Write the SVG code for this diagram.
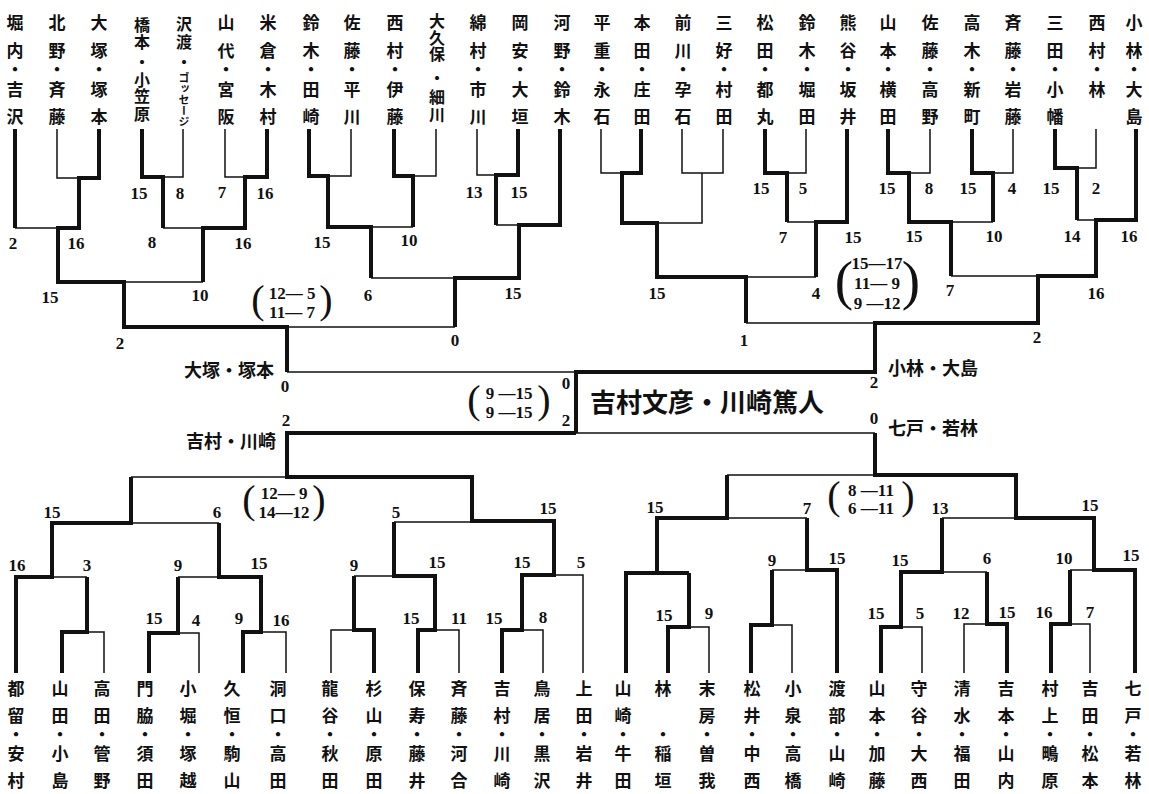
<svg xmlns="http://www.w3.org/2000/svg" width="1149" height="794" viewBox="0 0 1149 794">
<style>
.k{fill:none;stroke:#111;stroke-width:4;stroke-linejoin:miter}
.n{fill:none;stroke:#111;stroke-width:1.5}
.nm{font-family:"Noto Sans CJK JP","Noto Sans CJK SC",sans-serif;font-weight:700;font-size:17px;text-anchor:middle;fill:#111}
.sm{font-size:16px}
.kana{font-family:"Noto Sans CJK JP",sans-serif;font-weight:700;font-size:11px;fill:#111;writing-mode:vertical-rl}
.sc{font-family:"Liberation Serif",serif;font-weight:700;font-size:17px;text-anchor:middle;fill:#111}
.ps{font-family:"Liberation Serif",serif;font-weight:700;font-size:17px;text-anchor:middle;fill:#111}
.pr{font-family:"Liberation Serif",serif;font-size:40px;text-anchor:middle;fill:#111}
.pr3{font-size:55px}
.lb{font-family:"Noto Sans CJK JP",sans-serif;font-weight:700;font-size:18px;fill:#111}
.ttl{font-family:"Noto Sans CJK JP",sans-serif;font-weight:700;font-size:26px;fill:#111}
</style>
<rect width="1149" height="794" fill="#fff"/>

<g id="connectors">
<path class="n" d="M57,129V178H79 M15,228H58 M183,129V177H163 M163,228H203 M225,129V177H245 M203,282H124 M351,129V176H328 M436,129V176H413 M413,227H371 M371,278H455 M477,129V175H496 M496,225H519 M455,327H287 M287,372H576 M601,129V173H622 M682,129V173H723V129 M702,173V223H657 M806,129V173H787 M787,222H816 M816,277H746 M746,323H875 M930,129V173H909 M1013,129V173H993 M993,222H951 M1096,129V168H1077 M1077,220H1096 M951,276H1038"/>
<path class="n" d="M104,673V632H87 M87,577H52 M199,673V633H178 M286,673V632H261 M178,577H219 M219,523H131 M131,477H287 M331,673V630H354 M354,576H394 M459,673V630H435 M394,522H472 M543,673V630H522 M583,673V575H554 M709,673V627H689 M792,673V625H772 M772,570H807 M807,518H727 M727,475H875 M922,673V627H901 M964,673V624H987 M987,572H942 M942,518H1016 M1090,673V624H1070 M1070,570H1094 M875,433H576"/>
<path class="k" d="M99,129V178H79V228H58V282H124V327H287V372 M15,129V228 M142,129V177H163V228 M267,129V177H245V228H203V282 M309,129V176H328V227H371V278 M394,129V176H413V227 M518,129V175H496V225 M560,129V225H519V278H455V327 M641,129V173H622V223H657V277H746V323 M765,129V173H787V222 M847,129V222H816V277 M888,129V173H909V222H951V276 M972,129V173H993V222 M1055,129V168H1077V220 M1136,129V220H1096V276H1038V323H875V372H576V433"/>
<path class="k" d="M16,673V577H52V523H131V477 M62,673V632H87V577 M149,673V633H178V577 M243,673V632H261V577H219V523 M374,673V630H354V576 M418,673V630H435V576H394V522 M502,673V630H522V575H554V521H472V477H287V433H576 M626,673V573H689 M668,673V627H689V573 M657,573V518H727V475 M751,673V625H772V570 M837,673V570H807V518 M881,673V627H901V572H942V518 M1007,673V624H987V572 M1051,673V624H1070V570 M1135,673V570H1094V518H1016V475H875V433"/>
</g>

<g id="top-teams">
<g id="t00"><text class="nm" x="15 15 15 15 15" y="28.5 56.5 75.5 95.5 122.5">堀内・吉沢</text></g>
<g id="t01"><text class="nm" x="57 57 57 57 57" y="28.5 56.5 75.5 95.5 122.5">北野・斉藤</text></g>
<g id="t02"><text class="nm" x="99 99 99 99 99" y="28.5 56.5 75.5 95.5 122.5">大塚・塚本</text></g>
<g id="t03"><text class="nm sm" x="142 142 142 142 142 142" y="31 48 68 86 102 120">橋本・小笠原</text></g>
<g id="t04"><text class="nm sm" x="184 184 184" y="29.5 47.5 68">沢渡・</text><text class="kana" x="184" y="72">ゴッセージ</text></g>
<g id="t05"><text class="nm" x="226 226 226 226 226" y="28.5 56.5 75.5 95.5 122.5">山代・宮阪</text></g>
<g id="t06"><text class="nm" x="268 268 268 268 268" y="28.5 56.5 75.5 95.5 122.5">米倉・木村</text></g>
<g id="t07"><text class="nm" x="311 311 311 311 311" y="28.5 56.5 75.5 95.5 122.5">鈴木・田崎</text></g>
<g id="t08"><text class="nm" x="352 352 352 352 352" y="28.5 56.5 75.5 95.5 122.5">佐藤・平川</text></g>
<g id="t09"><text class="nm" x="395 395 395 395 395" y="28.5 56.5 75.5 95.5 122.5">西村・伊藤</text></g>
<g id="t10"><text class="nm sm" x="437 437 437 437 437 437" y="27 43.5 60 84 103 121">大久保・細川</text></g>
<g id="t11"><text class="nm" x="478 478 478 478 478" y="28.5 56.5 75.5 95.5 122.5">綿村・市川</text></g>
<g id="t12"><text class="nm" x="520 520 520 520 520" y="28.5 56.5 75.5 95.5 122.5">岡安・大垣</text></g>
<g id="t13"><text class="nm" x="562 562 562 562 562" y="28.5 56.5 75.5 95.5 122.5">河野・鈴木</text></g>
<g id="t14"><text class="nm" x="602 602 602 602 602" y="28.5 56.5 75.5 95.5 122.5">平重・永石</text></g>
<g id="t15"><text class="nm" x="642 642 642 642 642" y="28.5 56.5 75.5 95.5 122.5">本田・庄田</text></g>
<g id="t16"><text class="nm" x="683 683 683 683 683" y="28.5 56.5 75.5 95.5 122.5">前川・孕石</text></g>
<g id="t17"><text class="nm" x="724 724 724 724 724" y="28.5 56.5 75.5 95.5 122.5">三好・村田</text></g>
<g id="t18"><text class="nm" x="765 765 765 765 765" y="28.5 56.5 75.5 95.5 122.5">松田・都丸</text></g>
<g id="t19"><text class="nm" x="807 807 807 807 807" y="28.5 56.5 75.5 95.5 122.5">鈴木・堀田</text></g>
<g id="t20"><text class="nm" x="848 848 848 848 848" y="28.5 56.5 75.5 95.5 122.5">熊谷・坂井</text></g>
<g id="t21"><text class="nm" x="888 888 888 888 888" y="28.5 56.5 75.5 95.5 122.5">山本・横田</text></g>
<g id="t22"><text class="nm" x="930 930 930 930 930" y="28.5 56.5 75.5 95.5 122.5">佐藤・高野</text></g>
<g id="t23"><text class="nm" x="972 972 972 972 972" y="28.5 56.5 75.5 95.5 122.5">高木・新町</text></g>
<g id="t24"><text class="nm" x="1013 1013 1013 1013 1013" y="28.5 56.5 75.5 95.5 122.5">斉藤・岩藤</text></g>
<g id="t25"><text class="nm" x="1055 1055 1055 1055 1055" y="28.5 56.5 75.5 95.5 122.5">三田・小幡</text></g>
<g id="t26"><text class="nm" x="1097 1097 1097 1097" y="28.5 56.5 75.5 95.5">西村・林</text></g>
<g id="t27"><text class="nm" x="1134 1134 1134 1134 1134" y="28.5 56.5 75.5 95.5 122.5">小林・大島</text></g>
</g>

<g id="bottom-teams">
<g id="b00"><text class="nm" x="16 16 16 16 16" y="694.5 721.5 740.5 759.5 786.5">都留・安村</text></g>
<g id="b01"><text class="nm" x="60 60 60 60 60" y="694.5 721.5 740.5 759.5 786.5">山田・小島</text></g>
<g id="b02"><text class="nm" x="102 102 102 102 102" y="694.5 721.5 740.5 759.5 786.5">高田・管野</text></g>
<g id="b03"><text class="nm" x="145 145 145 145 145" y="694.5 721.5 740.5 759.5 786.5">門脇・須田</text></g>
<g id="b04"><text class="nm" x="188 188 188 188 188" y="694.5 721.5 740.5 759.5 786.5">小堀・塚越</text></g>
<g id="b05"><text class="nm" x="232 232 232 232 232" y="694.5 721.5 740.5 759.5 786.5">久恒・駒山</text></g>
<g id="b06"><text class="nm" x="278 278 278 278 278" y="694.5 721.5 740.5 759.5 786.5">洞口・高田</text></g>
<g id="b07"><text class="nm" x="330 330 330 330 330" y="694.5 721.5 740.5 759.5 786.5">龍谷・秋田</text></g>
<g id="b08"><text class="nm" x="374 374 374 374 374" y="694.5 721.5 740.5 759.5 786.5">杉山・原田</text></g>
<g id="b09"><text class="nm" x="417 417 417 417 417" y="694.5 721.5 740.5 759.5 786.5">保寿・藤井</text></g>
<g id="b10"><text class="nm" x="459 459 459 459 459" y="694.5 721.5 740.5 759.5 786.5">斉藤・河合</text></g>
<g id="b11"><text class="nm" x="502 502 502 502 502" y="694.5 721.5 740.5 759.5 786.5">吉村・川崎</text></g>
<g id="b12"><text class="nm" x="542 542 542 542 542" y="694.5 721.5 740.5 759.5 786.5">鳥居・黒沢</text></g>
<g id="b13"><text class="nm" x="584 584 584 584 584" y="694.5 721.5 740.5 759.5 786.5">上田・岩井</text></g>
<g id="b14"><text class="nm" x="623 623 623 623 623" y="694.5 721.5 740.5 759.5 786.5">山崎・牛田</text></g>
<g id="b15"><text class="nm" x="663 663 663 663" y="694.5 740.5 759.5 786.5">林・稲垣</text></g>
<g id="b16"><text class="nm" x="707 707 707 707 707" y="694.5 721.5 740.5 759.5 786.5">末房・曽我</text></g>
<g id="b17"><text class="nm" x="752 752 752 752 752" y="694.5 721.5 740.5 759.5 786.5">松井・中西</text></g>
<g id="b18"><text class="nm" x="793 793 793 793 793" y="694.5 721.5 740.5 759.5 786.5">小泉・高橋</text></g>
<g id="b19"><text class="nm" x="837 837 837 837 837" y="694.5 721.5 740.5 759.5 786.5">渡部・山崎</text></g>
<g id="b20"><text class="nm" x="877 877 877 877 877" y="694.5 721.5 740.5 759.5 786.5">山本・加藤</text></g>
<g id="b21"><text class="nm" x="919 919 919 919 919" y="694.5 721.5 740.5 759.5 786.5">守谷・大西</text></g>
<g id="b22"><text class="nm" x="962 962 962 962 962" y="694.5 721.5 740.5 759.5 786.5">清水・福田</text></g>
<g id="b23"><text class="nm" x="1006 1006 1006 1006 1006" y="694.5 721.5 740.5 759.5 786.5">吉本・山内</text></g>
<g id="b24"><text class="nm" x="1050 1050 1050 1050 1050" y="694.5 721.5 740.5 759.5 786.5">村上・鴫原</text></g>
<g id="b25"><text class="nm" x="1090 1090 1090 1090 1090" y="694.5 721.5 740.5 759.5 786.5">吉田・松本</text></g>
<g id="b26"><text class="nm" x="1133 1133 1133 1133 1133" y="694.5 721.5 740.5 759.5 786.5">七戸・若林</text></g>
</g>

<g id="champion">
<text class="ttl" x="590" y="412">吉村文彦・川崎篤人</text>
</g>

<g id="finalists">
<text class="lb" x="274" y="377" text-anchor="end">大塚・塚本</text>
<text class="lb" x="888" y="375">小林・大島</text>
<text class="lb" x="276" y="448" text-anchor="end">吉村・川崎</text>
<text class="lb" x="888" y="435">七戸・若林</text>
</g>

<g id="scores">
<text class="sc" x="139" y="199">15</text><text class="sc" x="180" y="199">8</text><text class="sc" x="222" y="198">7</text><text class="sc" x="265" y="199">16</text>
<text class="sc" x="474" y="198">13</text><text class="sc" x="519" y="198">15</text>
<text class="sc" x="13" y="249">2</text><text class="sc" x="76" y="249">16</text><text class="sc" x="152" y="248">8</text><text class="sc" x="243" y="249">16</text><text class="sc" x="322" y="248">15</text><text class="sc" x="409" y="246">10</text>
<text class="sc" x="50" y="303">15</text><text class="sc" x="200" y="301">10</text><text class="sc" x="368" y="301">6</text><text class="sc" x="513" y="299">15</text>
<text class="sc" x="120" y="349">2</text><text class="sc" x="455" y="346">0</text>
<text class="sc" x="285" y="392">0</text>
<text class="sc" x="761" y="194">15</text><text class="sc" x="803" y="194">5</text><text class="sc" x="887" y="194">15</text><text class="sc" x="929" y="194">8</text><text class="sc" x="968" y="194">15</text><text class="sc" x="1012" y="194">4</text><text class="sc" x="1051" y="194">15</text><text class="sc" x="1096" y="194">2</text>
<text class="sc" x="783" y="243">7</text><text class="sc" x="853" y="243">15</text><text class="sc" x="914" y="242">15</text><text class="sc" x="994" y="242">10</text><text class="sc" x="1072" y="242">14</text><text class="sc" x="1129" y="242">16</text>
<text class="sc" x="657" y="299">15</text><text class="sc" x="816" y="299">4</text><text class="sc" x="950" y="296">7</text><text class="sc" x="1096" y="299">16</text>
<text class="sc" x="744" y="346">1</text><text class="sc" x="1037" y="343">2</text>
<text class="sc" x="874" y="388">2</text>
<text class="sc" x="566" y="389">0</text><text class="sc" x="566" y="426">2</text>
<text class="sc" x="286" y="426">2</text><text class="sc" x="874" y="424">0</text>
<text class="sc" x="52" y="518">15</text><text class="sc" x="217" y="518">6</text><text class="sc" x="396" y="518">5</text><text class="sc" x="548" y="514">15</text>
<text class="sc" x="17" y="571">16</text><text class="sc" x="87" y="571">3</text><text class="sc" x="178" y="571">9</text><text class="sc" x="259" y="569">15</text><text class="sc" x="354" y="571">9</text><text class="sc" x="437" y="568">15</text><text class="sc" x="522" y="568">15</text><text class="sc" x="581" y="568">5</text>
<text class="sc" x="154" y="624">15</text><text class="sc" x="196" y="626">4</text><text class="sc" x="239" y="624">9</text><text class="sc" x="281" y="626">16</text><text class="sc" x="411" y="624">15</text><text class="sc" x="459" y="624">11</text><text class="sc" x="494" y="624">15</text><text class="sc" x="543" y="623">8</text>
<text class="sc" x="655" y="513">15</text><text class="sc" x="807" y="514">7</text><text class="sc" x="940" y="514">13</text><text class="sc" x="1090" y="511">15</text>
<text class="sc" x="772" y="566">9</text><text class="sc" x="837" y="564">15</text><text class="sc" x="900" y="566">15</text><text class="sc" x="987" y="564">6</text><text class="sc" x="1064" y="564">10</text><text class="sc" x="1131" y="561">15</text>
<text class="sc" x="664" y="621">15</text><text class="sc" x="709" y="619">9</text><text class="sc" x="876" y="619">15</text><text class="sc" x="920" y="619">5</text><text class="sc" x="961" y="619">12</text><text class="sc" x="1007" y="618">15</text><text class="sc" x="1044" y="618">16</text><text class="sc" x="1090" y="618">7</text>
</g>

<g id="game-scores">
<text class="pr" x="258" y="312.5">(</text><text class="pr" x="326" y="312.5">)</text>
<text class="ps" x="292" y="298.5">12— 5</text><text class="ps" x="292" y="317.5">11— 7</text>
<text class="pr pr3" x="844" y="299">(</text><text class="pr pr3" x="911" y="299">)</text>
<text class="ps" x="877" y="268.5">15—17</text><text class="ps" x="877" y="288.5">11— 9</text><text class="ps" x="877" y="308.5">9 —12</text>
<text class="pr" x="474" y="412.5">(</text><text class="pr" x="544" y="412.5">)</text>
<text class="ps" x="509" y="398.5">9 —15</text><text class="ps" x="509" y="417.5">9 —15</text>
<text class="pr" x="249" y="512.5">(</text><text class="pr" x="319" y="512.5">)</text>
<text class="ps" x="284" y="498.5">12— 9</text><text class="ps" x="284" y="517.5">14—12</text>
<text class="pr" x="834" y="509">(</text><text class="pr" x="908" y="509">)</text>
<text class="ps" x="871" y="495.5">8 —11</text><text class="ps" x="871" y="513.5">6 —11</text>
</g>
</svg>
